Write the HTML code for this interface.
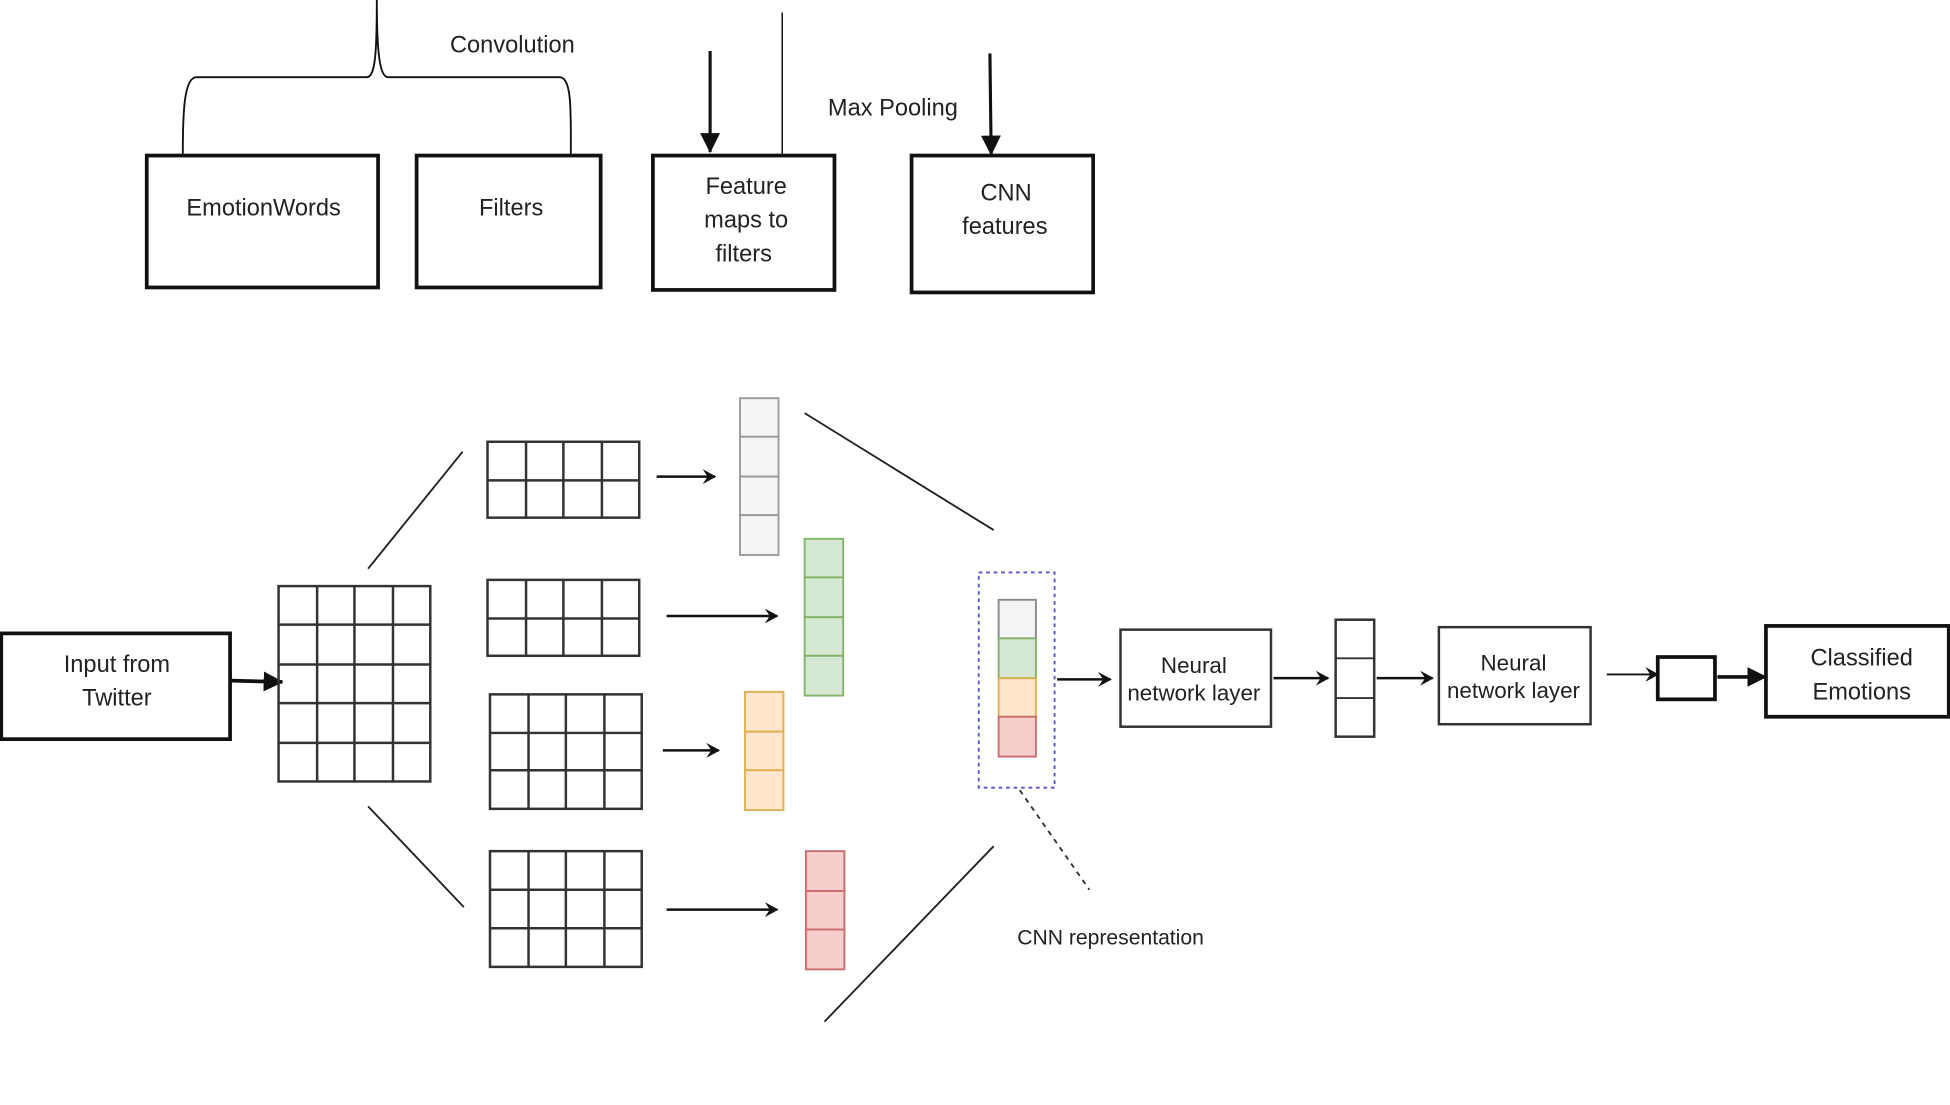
<!DOCTYPE html>
<html><head><meta charset="utf-8"><style>
html,body{margin:0;padding:0;background:#fff;}
svg{display:block;}
text{font-family:"Liberation Sans",sans-serif;fill:#222;}
</style></head><body>
<svg width="1950" height="1105" viewBox="0 0 1568 888" preserveAspectRatio="none" xmlns="http://www.w3.org/2000/svg">
<defs>
<marker id="a" markerWidth="8" markerHeight="8" refX="7" refY="4" orient="auto" markerUnits="userSpaceOnUse"><path d="M0,0 L8,4 L0,8 Z" fill="#111"/></marker>
<marker id="b" markerWidth="16" markerHeight="16" refX="15" refY="8" orient="auto" markerUnits="userSpaceOnUse"><path d="M0,0 L16,8 L0,16 Z" fill="#111"/></marker>
<marker id="c" markerWidth="12" markerHeight="12" refX="10" refY="6" orient="auto" markerUnits="userSpaceOnUse"><path d="M0,0 L11,6 L0,12 L4,6 Z" fill="#111"/></marker>
</defs>
<g fill="none" stroke="#111">
<!-- brace -->
<path d="M147,124 C147,90 148,62 158,62 L295,62 C302,62 303,40 303,0 M303,0 C303,40 305,62 312,62 L450,62 C460,62 459,90 459,124" stroke-width="1.5"/>
<line x1="629" y1="10" x2="629" y2="124" stroke-width="1.2"/>
<line x1="571" y1="41" x2="571" y2="122" stroke-width="2.5" marker-end="url(#b)"/>
<line x1="796" y1="43" x2="797" y2="124" stroke-width="2.5" marker-end="url(#b)"/>
<g stroke-width="3">
<rect x="118" y="125" width="186" height="106"/>
<rect x="335" y="125" width="148" height="106"/>
<rect x="525" y="125" width="146" height="108"/>
<rect x="733" y="125" width="146" height="110"/>
<rect x="1" y="509" width="184" height="85"/>
<rect x="1420" y="503" width="147" height="73"/>
<rect x="1333" y="528" width="46" height="34"/>
</g>
<!-- input arrow -->
<line x1="186" y1="547" x2="227" y2="548" stroke-width="3" marker-end="url(#b)"/>
<line x1="1381" y1="544" x2="1420" y2="544" stroke-width="3" marker-end="url(#b)"/>
<line x1="1292" y1="542" x2="1333" y2="542" stroke-width="1.5" marker-end="url(#c)"/>
<!-- big grid -->
<g stroke="#333" stroke-width="2">
<rect x="224" y="471" width="122" height="157"/>
<line x1="255" y1="471" x2="255" y2="628"/><line x1="285" y1="471" x2="285" y2="628"/><line x1="316" y1="471" x2="316" y2="628"/>
<line x1="224" y1="502" x2="346" y2="502"/><line x1="224" y1="534" x2="346" y2="534"/><line x1="224" y1="565" x2="346" y2="565"/><line x1="224" y1="597" x2="346" y2="597"/>
</g>
<!-- small grids -->
<g stroke="#333" stroke-width="2">
<rect x="392" y="355" width="122" height="61"/><line x1="423" y1="355" x2="423" y2="416"/><line x1="453" y1="355" x2="453" y2="416"/><line x1="484" y1="355" x2="484" y2="416"/><line x1="392" y1="386" x2="514" y2="386"/>
<rect x="392" y="466" width="122" height="61"/><line x1="423" y1="466" x2="423" y2="527"/><line x1="453" y1="466" x2="453" y2="527"/><line x1="484" y1="466" x2="484" y2="527"/><line x1="392" y1="497" x2="514" y2="497"/>
<rect x="394" y="558" width="122" height="92"/><line x1="425" y1="558" x2="425" y2="650"/><line x1="455" y1="558" x2="455" y2="650"/><line x1="486" y1="558" x2="486" y2="650"/><line x1="394" y1="589" x2="516" y2="589"/><line x1="394" y1="619" x2="516" y2="619"/>
<rect x="394" y="684" width="122" height="93"/><line x1="425" y1="684" x2="425" y2="777"/><line x1="455" y1="684" x2="455" y2="777"/><line x1="486" y1="684" x2="486" y2="777"/><line x1="394" y1="715" x2="516" y2="715"/><line x1="394" y1="746" x2="516" y2="746"/>
</g>
<!-- diagonals -->
<g stroke="#222" stroke-width="1.5">
<line x1="296" y1="457" x2="372" y2="363"/>
<line x1="296" y1="648" x2="373" y2="729"/>
<line x1="647" y1="332" x2="799" y2="426"/>
<line x1="663" y1="821" x2="799" y2="680"/>
</g>
<g stroke-width="2">
<line x1="528" y1="383" x2="575" y2="383" marker-end="url(#c)"/>
<line x1="536" y1="495" x2="625" y2="495" marker-end="url(#c)"/>
<line x1="533" y1="603" x2="578" y2="603" marker-end="url(#c)"/>
<line x1="536" y1="731" x2="625" y2="731" marker-end="url(#c)"/>
<line x1="850" y1="546" x2="893" y2="546" marker-end="url(#c)"/>
<line x1="1024" y1="545" x2="1068" y2="545" marker-end="url(#c)"/>
<line x1="1107" y1="545" x2="1152" y2="545" marker-end="url(#c)"/>
</g>
<!-- columns -->
<g stroke-width="1.5">
<g fill="#f4f4f4" stroke="#999"><rect x="595" y="320" width="31" height="31"/><rect x="595" y="351" width="31" height="32"/><rect x="595" y="383" width="31" height="31"/><rect x="595" y="414" width="31" height="32"/></g>
<g fill="#d5e8d4" stroke="#82b366"><rect x="647" y="433" width="31" height="31"/><rect x="647" y="464" width="31" height="32"/><rect x="647" y="496" width="31" height="31"/><rect x="647" y="527" width="31" height="32"/></g>
<g fill="#ffe6cc" stroke="#e0b050"><rect x="599" y="556" width="31" height="32"/><rect x="599" y="588" width="31" height="31"/><rect x="599" y="619" width="31" height="32"/></g>
<g fill="#f8cecc" stroke="#c96b6b"><rect x="648" y="684" width="31" height="32"/><rect x="648" y="716" width="31" height="31"/><rect x="648" y="747" width="31" height="32"/></g>
<rect x="787" y="460" width="61" height="173" stroke="#5555cc" stroke-dasharray="3,3"/>
<rect x="803" y="482" width="30" height="31" fill="#f4f4f4" stroke="#888"/>
<rect x="803" y="513" width="30" height="32" fill="#d5e8d4" stroke="#82b366"/>
<rect x="803" y="545" width="30" height="31" fill="#ffe6cc" stroke="#e0b050"/>
<rect x="803" y="576" width="30" height="32" fill="#f8cecc" stroke="#c96b6b"/>
<line x1="820" y1="635" x2="876" y2="715" stroke="#333" stroke-dasharray="4,4"/>
<rect x="1074" y="498" width="31" height="94" stroke="#333" stroke-width="2"/>
<line x1="1074" y1="529" x2="1105" y2="529" stroke="#333"/><line x1="1074" y1="561" x2="1105" y2="561" stroke="#333"/>
<rect x="901" y="506" width="121" height="78" stroke="#333" stroke-width="2"/>
<rect x="1157" y="504" width="122" height="78" stroke="#333" stroke-width="2"/>
</g>
</g>
<g font-size="19" text-anchor="middle">
<text x="412" y="42">Convolution</text>
<text x="718" y="93">Max Pooling</text>
<text x="212" y="173">EmotionWords</text>
<text x="411" y="173">Filters</text>
<text x="600" y="156">Feature</text><text x="600" y="183">maps to</text><text x="598" y="210">filters</text>
<text x="809" y="161">CNN</text><text x="808" y="188">features</text>
<text x="94" y="540">Input from</text><text x="94" y="567">Twitter</text>
<text x="1497" y="535">Classified</text><text x="1497" y="562">Emotions</text>
<text x="960" y="541" font-size="18">Neural</text><text x="960" y="563" font-size="18">network layer</text>
<text x="1217" y="539" font-size="18">Neural</text><text x="1217" y="561" font-size="18">network layer</text>
<text x="893" y="759" font-size="17">CNN representation</text>
</g>
</svg>
</body></html>
